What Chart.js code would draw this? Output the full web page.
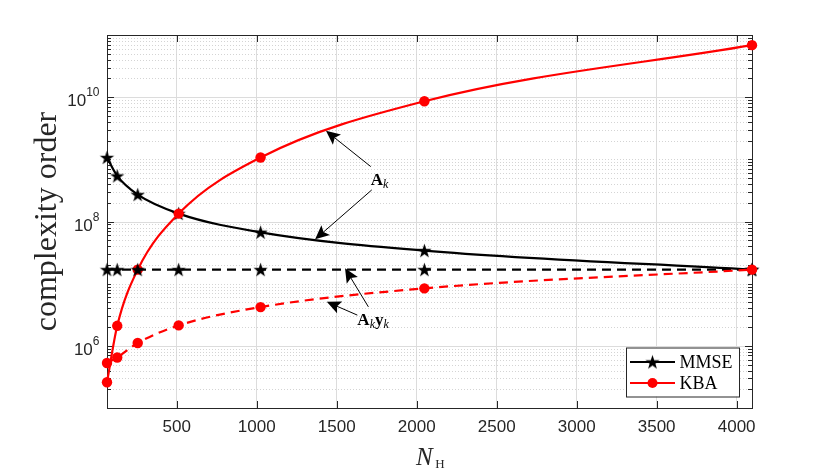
<!DOCTYPE html>
<html>
<head>
<meta charset="utf-8">
<script src="https://cdn.jsdelivr.net/npm/chart.js@4.4.0/dist/chart.umd.min.js"></script>
<style>
  html, body { margin: 0; padding: 0; background: #fff; }
</style>
</head>
<body>
<canvas id="chart" width="830" height="476"></canvas>
<script>
// values
const nValues = [64, 128, 256, 512, 1024, 2048, 4096];
const mmseA  = [1.07e9, 5.4e8, 2.7e8, 1.34e8, 6.7e7, 3.4e7, 1.68e7];
const mmseAy = [1.68e7, 1.68e7, 1.68e7, 1.68e7, 1.68e7, 1.68e7, 1.68e7];
const kbaA   = [2.6e5, 2.1e6, 1.68e7, 1.34e8, 1.07e9, 8.6e9, 6.87e10];
const kbaAy  = [5.3e5, 6.5e5, 1.11e6, 2.13e6, 4.2e6, 8.4e6, 1.68e7];
const xTicks = [500, 1000, 1500, 2000, 2500, 3000, 3500, 4000];
const yLabelExp = [6, 8, 10];

// annotation arrows, in data coordinates [x, log10(y)]
const arrows = [
  { from: [1713, 8.883], to: [1433, 9.458] },
  { from: [1719, 8.508], to: [1365, 7.713] },
  { from: [1698, 6.627], to: [1552, 7.246] },
  { from: [1629, 6.494], to: [1438, 6.708] }
];

const axisColor = '#262626';
const serif = '"Liberation Serif", "Times New Roman", serif';
const sans = '"Liberation Sans", Arial, sans-serif';

function makeStar(r, color) {
  const c = document.createElement('canvas');
  const s = Math.ceil(r * 2 + 2);
  c.width = s; c.height = s;
  const g = c.getContext('2d');
  g.fillStyle = color;
  g.beginPath();
  for (let i = 0; i < 10; i++) {
    const rad = i % 2 ? r * 0.4 : r;
    const a = -Math.PI / 2 + i * Math.PI / 5;
    g.lineTo(s / 2 + rad * Math.cos(a), s / 2 + 0.6 + rad * Math.sin(a));
  }
  g.closePath();
  g.fill();
  return c;
}
const star = makeStar(7.5, '#000');

function pts(ys) {
  return nValues.map((n, i) => ({ x: n, y: ys[i] }));
}

function drawArrow(ctx, x0, y0, x1, y1) {
  const ang = Math.atan2(y1 - y0, x1 - x0);
  const hl = 14, hw = 6.5;
  const c = Math.cos(ang), s = Math.sin(ang);
  const bx = x1 - hl * c, by = y1 - hl * s;
  const nx = x1 - hl * 0.8 * c, ny = y1 - hl * 0.8 * s;
  ctx.beginPath();
  ctx.moveTo(x0, y0);
  ctx.lineTo(nx, ny);
  ctx.stroke();
  ctx.beginPath();
  ctx.moveTo(x1, y1);
  ctx.lineTo(bx + hw * s, by - hw * c);
  ctx.lineTo(nx, ny);
  ctx.lineTo(bx - hw * s, by + hw * c);
  ctx.closePath();
  ctx.fill();
}

// draws text pieces one after another: [text, font, dy]
function drawPieces(ctx, x, y, pieces) {
  for (const [t, f, dy] of pieces) {
    ctx.font = f;
    ctx.fillText(t, x, y + dy);
    x += ctx.measureText(t).width;
  }
}

const frame = {
  id: 'frame',
  beforeDatasetsDraw(chart) {
    const { ctx, chartArea: a, scales: { x, y } } = chart;
    ctx.save();

    // log grid on y: solid at labelled decades, dotted elsewhere
    ctx.lineWidth = 1;
    for (let e = 5; e <= 10; e++) {
      for (let k = 1; k <= 9; k++) {
        const py = Math.round(y.getPixelForValue(k * Math.pow(10, e))) + 0.5;
        const major = k === 1 && yLabelExp.includes(e);
        ctx.strokeStyle = major ? '#dcdcdc' : '#d4d4d4';
        ctx.setLineDash(major ? [] : [1, 2]);
        ctx.beginPath();
        ctx.moveTo(a.left, py);
        ctx.lineTo(a.right, py);
        ctx.stroke();
        // ticks on both sides
        ctx.setLineDash([]);
        ctx.strokeStyle = axisColor;
        const len = major ? 7 : 4;
        ctx.beginPath();
        ctx.moveTo(a.left, py); ctx.lineTo(a.left + len, py);
        ctx.moveTo(a.right, py); ctx.lineTo(a.right - len, py);
        ctx.stroke();
      }
    }

    // x ticks top and bottom
    ctx.strokeStyle = axisColor;
    ctx.beginPath();
    for (const v of xTicks) {
      const px = Math.round(x.getPixelForValue(v)) + 0.5;
      ctx.moveTo(px, a.bottom); ctx.lineTo(px, a.bottom - 7);
      ctx.moveTo(px, a.top); ctx.lineTo(px, a.top + 7);
    }
    ctx.stroke();

    // box
    ctx.strokeRect(Math.round(a.left) + 0.5, Math.round(a.top) + 0.5,
      Math.round(a.right - a.left), Math.round(a.bottom - a.top));

    // y tick labels 10^n
    ctx.fillStyle = axisColor;
    ctx.textAlign = 'right';
    ctx.textBaseline = 'alphabetic';
    for (const e of yLabelExp) {
      const py = y.getPixelForValue(Math.pow(10, e));
      const right = a.left - 7.5;
      ctx.font = '12px ' + sans;
      const sw = ctx.measureText(String(e)).width;
      ctx.fillText(String(e), right, py - 1);
      ctx.font = '17px ' + sans;
      ctx.fillText('10', right - sw, py + 9);
    }

    // axis titles
    ctx.textAlign = 'center';
    ctx.font = '32px ' + serif;
    ctx.save();
    ctx.translate(56, (a.top + a.bottom) / 2);
    ctx.rotate(-Math.PI / 2);
    ctx.fillText('complexity order', 0, 0);
    ctx.restore();

    ctx.textAlign = 'left';
    const cx = (a.left + a.right) / 2;
    ctx.font = 'italic 25px ' + serif;
    const nw = ctx.measureText('N').width;
    ctx.font = '13px ' + serif;
    const hwid = ctx.measureText('H').width;
    drawPieces(ctx, cx - (nw + hwid + 1) / 2, 465, [
      ['N', 'italic 25px ' + serif, 0],
      ['\u2009', '13px ' + serif, 0],
      ['H', '13px ' + serif, 3]
    ]);
    ctx.restore();
  },
  afterDatasetsDraw(chart) {
    const { ctx, scales: { x, y } } = chart;
    ctx.save();

    // annotation arrows and labels
    ctx.strokeStyle = '#000';
    ctx.fillStyle = '#000';
    ctx.lineWidth = 1;
    for (const ar of arrows) {
      drawArrow(ctx,
        x.getPixelForValue(ar.from[0]), y.getPixelForValue(Math.pow(10, ar.from[1])),
        x.getPixelForValue(ar.to[0]), y.getPixelForValue(Math.pow(10, ar.to[1])));
    }
    ctx.textAlign = 'left';
    ctx.textBaseline = 'alphabetic';
    drawPieces(ctx, x.getPixelForValue(1713), y.getPixelForValue(Math.pow(10, 8.58)), [
      ['A', 'bold 17px ' + serif, 0],
      ['k', 'italic 12px ' + serif, 3]
    ]);
    drawPieces(ctx, x.getPixelForValue(1629), y.getPixelForValue(Math.pow(10, 6.333)), [
      ['A', 'bold 17px ' + serif, 0],
      ['k', 'italic 12px ' + serif, 3],
      ['y', 'bold 17px ' + serif, 0],
      ['k', 'italic 12px ' + serif, 3]
    ]);

    // legend box, bottom right inside the axes
    const lx = 626, ly = 347.5, lw = 113, lh = 49;
    ctx.fillStyle = '#fff';
    ctx.fillRect(lx, ly, lw, lh);
    ctx.strokeStyle = axisColor;
    ctx.strokeRect(lx + 0.5, ly + 0.5, lw, lh);
    const entries = [
      { name: 'MMSE', color: '#000', marker: 'star', yy: ly + 14.5 },
      { name: 'KBA', color: '#ff0000', marker: 'circle', yy: ly + 35.5 }
    ];
    for (const en of entries) {
      ctx.strokeStyle = en.color;
      ctx.lineWidth = 2;
      ctx.beginPath();
      ctx.moveTo(lx + 4, en.yy);
      ctx.lineTo(lx + 49, en.yy);
      ctx.stroke();
      if (en.marker === 'star') {
        ctx.drawImage(star, lx + 26.5 - star.width / 2, en.yy - star.height / 2);
      } else {
        ctx.fillStyle = en.color;
        ctx.beginPath();
        ctx.arc(lx + 26.5, en.yy, 5, 0, Math.PI * 2);
        ctx.fill();
      }
      ctx.fillStyle = '#000';
      ctx.font = '18px ' + serif;
      ctx.textBaseline = 'middle';
      ctx.fillText(en.name, lx + 53.5, en.yy + 1);
    }
    ctx.restore();
  }
};

const lineBase = { fill: false, borderWidth: 2.2, cubicInterpolationMode: 'monotone', clip: false };

new Chart(document.getElementById('chart'), {
  type: 'line',
  data: {
    datasets: [
      Object.assign({}, lineBase, {
        label: 'MMSE', data: pts(mmseA), borderColor: '#000',
        pointStyle: star, pointRadius: 7, order: 3
      }),
      Object.assign({}, lineBase, {
        label: 'KBA', data: pts(kbaA), borderColor: '#ff0000',
        pointStyle: 'circle', pointRadius: 5.2, pointBackgroundColor: '#ff0000',
        pointBorderColor: '#ff0000', pointBorderWidth: 0, order: 2
      }),
      Object.assign({}, lineBase, {
        label: 'MMSE Akyk', data: pts(mmseAy), borderColor: '#000', borderDash: [9, 6],
        pointStyle: star, pointRadius: 7, order: 1
      }),
      Object.assign({}, lineBase, {
        label: 'KBA Akyk', data: pts(kbaAy), borderColor: '#ff0000', borderDash: [9, 6],
        pointStyle: 'circle', pointRadius: 5.2, pointBackgroundColor: '#ff0000',
        pointBorderColor: '#ff0000', pointBorderWidth: 0, order: 0
      })
    ]
  },
  options: {
    responsive: false,
    animation: false,
    layout: { padding: { left: 107, top: 35, right: 78, bottom: 0 } },
    plugins: { legend: { display: false }, tooltip: { enabled: false } },
    scales: {
      x: {
        type: 'linear', min: 64, max: 4096,
        afterBuildTicks: s => { s.ticks = xTicks.map(v => ({ value: v })); },
        afterFit: s => { s.height = 68; },
        grid: { color: '#dcdcdc', drawTicks: false },
        border: { display: false },
        ticks: {
          font: { family: 'Liberation Sans', size: 17 }, color: axisColor, padding: 9,
          callback: v => String(v)
        }
      },
      y: { type: 'logarithmic', min: 1e5, max: 1e11, display: false }
    }
  },
  plugins: [frame]
});
</script>
</body>
</html>
